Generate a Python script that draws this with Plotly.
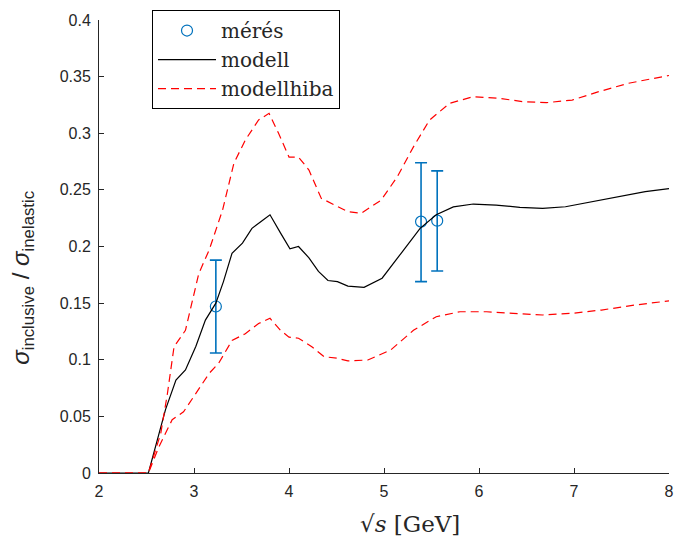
import plotly.graph_objects as go

# model curve
model_x = [2.0, 2.52, 2.70, 2.81, 2.91, 3.02, 3.12, 3.23, 3.31, 3.40, 3.51, 3.61, 3.72, 3.80,
           3.91, 4.01, 4.10, 4.21, 4.31, 4.41, 4.51, 4.62, 4.79, 4.98, 5.18, 5.38, 5.55, 5.73,
           5.94, 6.18, 6.43, 6.67, 6.91, 7.19, 7.47, 7.75, 8.0]
model_y = [0.0, 0.0, 0.056, 0.082, 0.091, 0.112, 0.135, 0.150, 0.169, 0.194, 0.203, 0.216, 0.223, 0.228,
           0.212, 0.198, 0.200, 0.190, 0.178, 0.170, 0.169, 0.165, 0.164, 0.172, 0.194, 0.216, 0.228, 0.235,
           0.2375, 0.2366, 0.2346, 0.2337, 0.2351, 0.2396, 0.244, 0.2484, 0.2512]

# upper error band
upper_x = [2.0, 2.52, 2.65, 2.72, 2.79, 2.91, 3.05, 3.16, 3.30, 3.42, 3.54, 3.68, 3.79, 3.89,
           4.00, 4.10, 4.21, 4.34, 4.48, 4.62, 4.76, 4.97, 5.14, 5.31, 5.48, 5.69, 5.94, 6.22,
           6.46, 6.71, 6.98, 7.26, 7.57, 8.0]
upper_y = [0.0, 0.0, 0.035, 0.070, 0.1115, 0.126, 0.176, 0.197, 0.232, 0.2735, 0.294, 0.3117, 0.3176, 0.300,
           0.279, 0.279, 0.2675, 0.2425, 0.2366, 0.2307, 0.2293, 0.241, 0.2616, 0.288, 0.3117, 0.3264, 0.3323, 0.3308,
           0.3279, 0.327, 0.3293, 0.3367, 0.3441, 0.351]

# lower error band
lower_x = [2.0, 2.52, 2.63, 2.77, 2.89, 3.02, 3.16, 3.26, 3.40, 3.54, 3.68, 3.80, 3.91, 4.00,
           4.10, 4.24, 4.37, 4.51, 4.62, 4.83, 5.07, 5.31, 5.55, 5.80, 6.08, 6.36, 6.67, 6.98,
           7.29, 7.64, 8.0]
lower_y = [0.0, 0.0, 0.023, 0.047, 0.054, 0.070, 0.088, 0.097, 0.117, 0.123, 0.132, 0.1366, 0.126, 0.120,
           0.119, 0.1115, 0.1027, 0.1013, 0.099, 0.0998, 0.1086, 0.126, 0.138, 0.1424, 0.1424, 0.141, 0.1395, 0.141,
           0.1439, 0.1483, 0.152]

# measurements
meas_x = [3.23, 5.39, 5.56]
meas_y = [0.147, 0.222, 0.2228]
meas_err_plus = [0.041, 0.052, 0.044]
meas_err_minus = [0.041, 0.053, 0.0444]

x_ticks = [2, 3, 4, 5, 6, 7, 8]
y_ticks = [0, 0.05, 0.1, 0.15, 0.2, 0.25, 0.3, 0.35, 0.4]
y_ticktext = ["0", "0.05", "0.1", "0.15", "0.2", "0.25", "0.3", "0.35", "0.4"]

blue = "#0072BD"
red = "#FF0000"
dash = "8px,5px"
ink = "#262626"
serif = "DejaVu Serif, Liberation Serif, serif"
sans = "Liberation Sans, Arial, sans-serif"

fig = go.Figure()
fig.add_trace(go.Scatter(
    x=meas_x, y=meas_y, mode="markers", name="mérés",
    marker=dict(symbol="circle-open", size=11, color=blue, line=dict(width=1.2, color=blue)),
    error_y=dict(type="data", symmetric=False, array=meas_err_plus, arrayminus=meas_err_minus,
                 color=blue, thickness=1.6, width=6),
))
fig.add_trace(go.Scatter(x=model_x, y=model_y, mode="lines", name="modell",
                         line=dict(color="black", width=1.2)))
fig.add_trace(go.Scatter(x=upper_x, y=upper_y, mode="lines", name="modellhiba",
                         line=dict(color=red, width=1.2, dash=dash)))
fig.add_trace(go.Scatter(x=lower_x, y=lower_y, mode="lines", name="modellhiba", showlegend=False,
                         line=dict(color=red, width=1.2, dash=dash)))

tickfont = dict(family=sans, size=16, color=ink)

fig.update_layout(
    width=675, height=538,
    margin=dict(l=99, r=6, t=20, b=65),
    plot_bgcolor="white", paper_bgcolor="white",
    showlegend=True,
    legend=dict(x=0.093, y=1.022, xanchor="left", yanchor="top",
                bordercolor="black", borderwidth=1, bgcolor="white",
                font=dict(family=serif, size=20, color=ink),
                tracegroupgap=0, itemwidth=58),
    xaxis=dict(range=[2, 8], tickvals=x_ticks, ticks="inside", ticklen=5, automargin=False,
               tickcolor=ink, showline=True, linecolor=ink, linewidth=1, ticklabeloverflow="allow",
               showgrid=False, zeroline=False, tickfont=tickfont, ticklabelstandoff=4),
    yaxis=dict(range=[0, 0.4], tickvals=y_ticks, ticktext=y_ticktext, automargin=False,
               ticks="inside", ticklen=5, tickcolor=ink, showline=True, linecolor=ink,
               linewidth=1, showgrid=False, zeroline=False, tickfont=tickfont, ticklabelstandoff=4),
    annotations=[
        dict(text="<i>σ</i><sub>inclusive</sub>\u00a0/\u00a0<i>σ</i><sub>inelastic</sub>",
             xref="paper", yref="paper", x=-0.134, y=0.43, xanchor="center", yanchor="middle",
             textangle=-90, showarrow=False, font=dict(family=sans, size=24, color=ink)),
        dict(text="√<i>s</i>\u00a0[GeV]",
             xref="paper", yref="paper", x=0.545, y=-0.1126, xanchor="center", yanchor="middle",
             showarrow=False, font=dict(family=serif, size=23, color=ink)),
    ],
)

fig.write_html("out.html")
